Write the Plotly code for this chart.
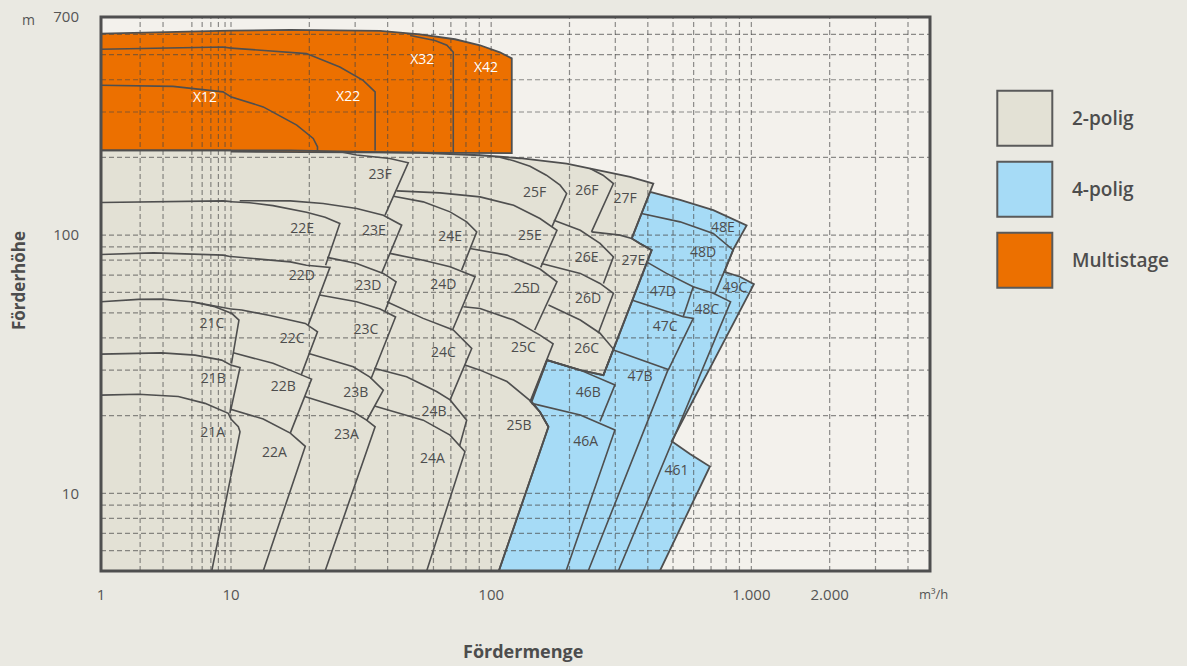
import math
import plotly.graph_objects as go

# ------------------------------------------------------------------
# Data
# Q = Fördermenge [m³/h], H = Förderhöhe [m]
# ------------------------------------------------------------------

# --- Multistage (orange) envelope and internal curves
MS_OUTLINE_Q = [1, 5.77, 16.9, 37.4, 53.3, 72.6, 90.6, 108, 120, 120, 69.5, 28.7, 16.9, 1]
MS_OUTLINE_H = [603, 616, 624, 619, 600, 574, 544, 511, 484, 208, 209, 211, 213, 213]
X32_Q = [48.8, 60.8, 67.6, 71.5, 71.5]
X32_H = [594, 568, 544, 511, 210]
X22_Q = [1, 8.68, 19.5, 26.2, 32.2, 35.8, 35.8]
X22_H = [525, 536, 505, 448, 398, 359, 213]
X12_Q = [1, 3.58, 8.68, 13.3, 17.9, 20.7, 21.5, 21.5]
X12_H = [381, 377, 359, 314, 267, 237, 220, 213]

# --- 2-polig (beige) envelope
P2_OUTLINE_Q = [1, 16.9, 28.7, 53.3, 90.6, 129, 195, 240, 342, 420, 347, 373, 414,
                295, 270, 220, 164, 142, 154, 166, 107, 1]
P2_OUTLINE_H = [213, 213, 210.5, 208.6, 204, 198.6, 189.4, 181.2, 168.1, 158.5, 97.1, 92.9, 87.5,
                36, 28.7, 30.0, 32.8, 22.6, 20.65, 18.1, 5, 5]

# --- 2-polig curves (top curve + right limit of each size)
C21C_Q = [1, 1.94, 2.93, 4.99, 7.53, 10.06, 10.73, 10.04]
C21C_H = [55.2, 56.4, 56.5, 55.2, 52.8, 49.8, 46.9, 31.8]
C21B_Q = [1, 2.93, 5.29, 8.48, 10.83, 10, 9.82]
C21B_H = [34.6, 35.0, 34.3, 32.8, 30.7, 21.2, 20.4]
C21A_Q = [1, 1.94, 3.93, 6.31, 9.53, 10.67, 10.83, 10, 7.11]
C21A_H = [24.0, 24.2, 23.7, 22.3, 20.4, 18.1, 17.3, 11.7, 5]
C22E_Q = [1, 2.68, 8.72, 11.8, 14.5, 19.5, 23.0, 26.2, 23.1]
C22E_H = [133.8, 134.6, 135.8, 133.6, 130.1, 122.7, 117.4, 111.0, 76.5]
C22D_Q = [1, 2.53, 8.72, 16.9, 19.5, 24.0, 19.8]
C22D_H = [84.2, 85.4, 83.7, 78.8, 76.5, 75.0, 44.8]
C22C_Q = [5.01, 11.0, 14.1, 19.3, 21.5, 18.6]
C22C_H = [55.2, 51.3, 48.8, 45.5, 42.2, 28.7]
C22B_Q = [10.2, 14.5, 17.4, 20.4, 16.9]
C22B_H = [35.0, 31.9, 29.6, 27.7, 17.1]
C22A_Q = [9.91, 13.3, 16.9, 19.3, 13.3]
C22A_H = [21.2, 19.4, 17.1, 15.2, 5]
C23F_Q = [26.9, 30.4, 40.8, 48.0, 39.1]
C23F_H = [209.6, 204.4, 198.1, 190.8, 119.5]
C23E_Q = [10.8, 16.9, 22.6, 30.4, 38.5, 45.3, 37.9]
C23E_H = [136.0, 135.8, 132.7, 126.8, 119.5, 109.3, 71.1]
C23D_Q = [23.4, 30.4, 38.5, 43.1, 39.1]
C23D_H = [82.0, 77.7, 71.1, 66.0, 50.8]
C23C_Q = [21.9, 30.4, 37.4, 42.9, 34.5]
C23C_H = [58.6, 55.2, 51.7, 48.2, 27.7]
C23B_Q = [19.9, 29.5, 34.2, 38.5, 33.2]
C23B_H = [34.8, 30.9, 28.2, 25.1, 19.1]
C23A_Q = [19.2, 29.5, 33.2, 35.8, 23.0]
C23A_H = [23.7, 20.7, 19.2, 18.1, 5]
C24E_Q = [42.1, 54.8, 69.5, 80.5, 88.0, 77.0]
C24E_H = [141.5, 134.6, 123.1, 112.6, 103.0, 73.2]
C24D_Q = [40.8, 54.8, 69.5, 86.7, 71.3]
C24D_H = [85.0, 80.0, 75.4, 69.0, 43.3]
C24C_Q = [39.7, 54.8, 71.5, 84.2, 69.5]
C24C_H = [55.2, 47.6, 42.9, 36.4, 23.0]
C24B_Q = [35.5, 47.3, 61.7, 69.5, 80.5, 75.6]
C24B_H = [30.5, 28.3, 24.8, 23.0, 19.2, 15.25]
C24A_Q = [35.6, 54.8, 69.5, 79.3, 56.5]
C24A_H = [21.8, 19.2, 16.8, 14.5, 5]
C25F_Q = [108, 122, 141, 163, 184, 195, 171]
C25F_H = [200.4, 194.2, 184.9, 170.7, 156.2, 145.0, 107.4]
C25E_Q = [43.3, 63.6, 90.6, 122, 154, 179, 155]
C25E_H = [148.4, 145.8, 140.7, 130.6, 116.0, 104.5, 75.0]
C25D_Q = [82.9, 115, 154, 179, 147]
C25D_H = [88.8, 83.7, 73.9, 66.0, 42.9]
C25C_Q = [78.2, 90.6, 122, 154, 173, 141]
C25C_H = [52.8, 52.0, 46.9, 41.0, 37.9, 22.6]
C25B_Q = [79.3, 90.6, 115, 143, 154, 166]
C25B_H = [31.4, 30.0, 27.1, 22.6, 20.65, 18.1]
C26F_Q = [240, 269, 295, 243]
C26F_H = [181.2, 170.7, 158.5, 103.0]
C26E_Q = [174, 220, 262, 295, 270]
C26E_H = [114.3, 104.5, 92.9, 82.4, 65.0]
C26D_Q = [156, 220, 262, 295, 258]
C26D_H = [77.6, 71.1, 65.0, 59.5, 41.7]
C26C_Q = [166, 220, 262, 295, 270]
C26C_H = [53.6, 46.9, 41.7, 36.2, 28.7]
C27E_Q = [243, 313, 347]
C27E_H = [103.0, 100, 97.1]

# --- 4-polig (blue) envelope and curves
P4_OUTLINE_Q = [408, 532, 714, 959, 852, 788, 904, 1023, 494, 581, 693, 445, 107, 166, 154, 143,
                164, 220, 270, 295, 349, 397, 414, 373, 347, 378]
P4_OUTLINE_H = [147, 137, 125, 109, 88, 72, 69, 64.6, 15.9, 14.2, 12.7, 5, 5, 18.1, 20.65, 22.6,
                32.8, 30.0, 28.7, 36, 56, 78.6, 87.5, 92.9, 97.1, 121]
C48D_Q = [378, 532, 714, 852, 725]
C48D_H = [121.3, 112.6, 101.5, 87.5, 59.5]
C47D48C_Q = [397, 472, 598, 714, 832, 308]
C47D48C_H = [78.6, 71.1, 63.1, 59.5, 55.2, 5]
C47D_EDGE_Q = [598, 547]
C47D_EDGE_H = [63.1, 48.3]
C47C_Q = [349, 458, 547, 598, 479]
C47C_H = [56.0, 51.3, 48.3, 47.6, 30.0]
C47B_Q = [295, 384, 479, 236]
C47B_H = [35.9, 32.8, 30.2, 5]
C46B_Q = [164, 220, 299, 262]
C46B_H = [32.8, 30.0, 26.3, 19.0]
C46A_Q = [143, 220, 299, 194]
C46A_H = [22.3, 20.1, 17.6, 5]

# --- Labels
P2_LABELS = ["22E", "23F", "23E", "24E", "25F", "25E", "26F", "26E", "27F", "27E",
             "22D", "23D", "24D", "25D", "26D", "22C", "23C", "24C", "25C", "26C",
             "22B", "23B", "24B", "25B", "22A", "23A", "24A"]
P2_LABEL_Q = [18.75, 37.4, 35.4, 69.5, 147, 141, 233, 233, 327, 352,
              18.7, 33.7, 65.5, 137, 236, 17.2, 33.0, 65.5, 133, 233,
              15.9, 30.2, 60.3, 128, 14.7, 27.8, 59.4]
P2_LABEL_H = [105, 170.7, 103, 98, 145, 99.1, 147, 81.3, 137.5, 79.3,
              69, 63.1, 64, 61.7, 56.4, 39.6, 42.6, 34.8, 36.5, 36.1,
              25.7, 24.4, 20.6, 18.2, 14.3, 16.7, 13.5]
P2_LEFT_LABELS = ["21C", "21B", "21A"]
P2_LEFT_LABEL_Q = [7.14, 7.31, 7.23]
P2_LEFT_LABEL_H = [45.0, 27.5, 17.0]
P4_LABELS = ["48E", "48D", "49C", "47D", "48C", "47C", "47B", "46B", "46A", "461"]
P4_LABEL_Q = [778, 652, 865, 457, 675, 466, 373, 236, 231, 516]
P4_LABEL_H = [106.4, 85.2, 62.4, 59.9, 51.0, 43.9, 28.1, 24.4, 15.7, 12.1]
MS_LABELS = ["X22", "X32", "X42"]
MS_LABEL_Q = [28.2, 54.3, 95.5]
MS_LABEL_H = [342, 476, 443]
MS_LEFT_LABELS = ["X12"]
MS_LEFT_LABEL_Q = [6.31]
MS_LEFT_LABEL_H = [339]

# --- Axis ticks / grid values
X_TICKS_LEFT = [1]
X_TICKTEXT_LEFT = ["1"]
X_TICKS_RIGHT = [10, 100, 1000, 2000]
X_TICKTEXT_RIGHT = ["10", "100", "1.000", "2.000"]
Y_TICKS = [10, 100, 700]
Y_TICKTEXT = ["10", "100", "700"]
GRID_Q_LEFT = [2, 3, 5, 6, 7, 8, 9, 10]
GRID_Q_RIGHT = [10, 20, 30, 40, 50, 60, 70, 80, 90, 100, 200, 300, 400, 500, 600, 700, 800, 900,
                1000, 2000, 3000, 4000]
GRID_H = [6, 7, 8, 9, 10, 20, 30, 40, 50, 60, 70, 80, 90, 100, 200, 300, 400, 500, 600]
Q_MIN, Q_SPLIT, Q_MAX = 1, 10, 4860
H_MIN, H_MAX = 5, 700

LEGEND_NAMES = ["2-polig", "4-polig", "Multistage"]

# ------------------------------------------------------------------
# Styling
# ------------------------------------------------------------------
PAPER_BG = "#EAE9E2"
PLOT_BG = "#F3F1EC"
BEIGE = "#E3E1D5"
BLUE = "#A6DBF6"
ORANGE = "#EC7000"
EDGE = "#4F4F4F"
TEXT = "#4D4D4D"
FONT = "Open Sans"

# the chart uses a compressed first decade: two log axes side by side sharing y
AXES = [("x", "y"), ("x2", "y")]

fig = go.Figure()


def add_fill(q, h, color):
    for xa, ya in AXES:
        fig.add_trace(go.Scatter(x=q, y=h, xaxis=xa, yaxis=ya, mode="lines", fill="toself",
                                 fillcolor=color, line=dict(width=0), hoverinfo="skip",
                                 showlegend=False))


def add_line(q, h, width=1.6, closed=False):
    if closed:
        q = list(q) + [q[0]]
        h = list(h) + [h[0]]
    for xa, ya in AXES:
        fig.add_trace(go.Scatter(x=q, y=h, xaxis=xa, yaxis=ya, mode="lines",
                                 line=dict(color=EDGE, width=width), hoverinfo="skip",
                                 showlegend=False))


def add_text(q, h, labels, color, xa):
    fig.add_trace(go.Scatter(x=q, y=h, xaxis=xa, yaxis="y", mode="text", text=labels,
                             textposition="middle center",
                             textfont=dict(family=FONT, size=14, color=color),
                             hoverinfo="skip", showlegend=False))


# fills
add_fill(P2_OUTLINE_Q, P2_OUTLINE_H, BEIGE)
add_fill(P4_OUTLINE_Q, P4_OUTLINE_H, BLUE)
add_fill(MS_OUTLINE_Q, MS_OUTLINE_H, ORANGE)

# dashed grid above the fills
GRID_STYLE = dict(color="rgba(70,70,70,0.6)", width=1.2, dash="5px,3px")
for xa, qs in (("x", GRID_Q_LEFT), ("x2", GRID_Q_RIGHT)):
    gx, gy = [], []
    for v in qs:
        gx += [v, v, None]
        gy += [H_MIN, H_MAX, None]
    fig.add_trace(go.Scatter(x=gx, y=gy, xaxis=xa, yaxis="y", mode="lines", line=GRID_STYLE,
                             hoverinfo="skip", showlegend=False))
for xa, (qa, qb) in (("x", (Q_MIN, Q_SPLIT)), ("x2", (Q_SPLIT, Q_MAX))):
    gx, gy = [], []
    for v in GRID_H:
        gx += [qa, qb, None]
        gy += [v, v, None]
    fig.add_trace(go.Scatter(x=gx, y=gy, xaxis=xa, yaxis="y", mode="lines", line=GRID_STYLE,
                             hoverinfo="skip", showlegend=False))

# outlines
add_line(P2_OUTLINE_Q, P2_OUTLINE_H, 1.8, closed=True)
add_line(P4_OUTLINE_Q, P4_OUTLINE_H, 1.8, closed=True)
add_line(MS_OUTLINE_Q, MS_OUTLINE_H, 1.8, closed=True)

P2_CURVES = [(C21C_Q, C21C_H), (C21B_Q, C21B_H), (C21A_Q, C21A_H),
             (C22E_Q, C22E_H), (C22D_Q, C22D_H), (C22C_Q, C22C_H), (C22B_Q, C22B_H), (C22A_Q, C22A_H),
             (C23F_Q, C23F_H), (C23E_Q, C23E_H), (C23D_Q, C23D_H), (C23C_Q, C23C_H), (C23B_Q, C23B_H),
             (C23A_Q, C23A_H), (C24E_Q, C24E_H), (C24D_Q, C24D_H), (C24C_Q, C24C_H), (C24B_Q, C24B_H),
             (C24A_Q, C24A_H), (C25F_Q, C25F_H), (C25E_Q, C25E_H), (C25D_Q, C25D_H), (C25C_Q, C25C_H),
             (C25B_Q, C25B_H), (C26F_Q, C26F_H), (C26E_Q, C26E_H), (C26D_Q, C26D_H), (C26C_Q, C26C_H),
             (C27E_Q, C27E_H)]
P4_CURVES = [(C48D_Q, C48D_H), (C47D48C_Q, C47D48C_H), (C47D_EDGE_Q, C47D_EDGE_H),
             (C47C_Q, C47C_H), (C47B_Q, C47B_H), (C46B_Q, C46B_H), (C46A_Q, C46A_H)]
MS_CURVES = [(X32_Q, X32_H), (X22_Q, X22_H), (X12_Q, X12_H)]
for q, h in P2_CURVES + P4_CURVES + MS_CURVES:
    add_line(q, h, 1.6)

# labels
add_text(P2_LABEL_Q, P2_LABEL_H, P2_LABELS, TEXT, "x2")
add_text(P2_LEFT_LABEL_Q, P2_LEFT_LABEL_H, P2_LEFT_LABELS, TEXT, "x")
add_text(P4_LABEL_Q, P4_LABEL_H, P4_LABELS, TEXT, "x2")
add_text(MS_LABEL_Q, MS_LABEL_H, MS_LABELS, "white", "x2")
add_text(MS_LEFT_LABEL_Q, MS_LEFT_LABEL_H, MS_LEFT_LABELS, "white", "x")

# ------------------------------------------------------------------
# Layout
# ------------------------------------------------------------------
PLOT_W = 1187 - 101 - 257
PLOT_H = 666 - 17 - 95
split = 130 / PLOT_W
tick_common = dict(type="log", showgrid=False, zeroline=False, showline=False, ticks="outside",
                   ticklen=10, tickcolor="rgba(0,0,0,0)", automargin=False,
                   tickfont=dict(family=FONT, size=15, color="#555555"))

fig.update_layout(
    width=1187, height=666,
    margin=dict(l=101, r=257, t=17, b=95, autoexpand=False),
    paper_bgcolor=PAPER_BG, plot_bgcolor=PLOT_BG,
    showlegend=False,
    font=dict(family=FONT, color=TEXT),
    xaxis=dict(domain=[0, split], range=[math.log10(Q_MIN), math.log10(Q_SPLIT)], anchor="y",
               tickvals=X_TICKS_LEFT, ticktext=X_TICKTEXT_LEFT, **tick_common),
    xaxis2=dict(domain=[split, 1], range=[math.log10(Q_SPLIT), math.log10(Q_MAX)], anchor="y",
                tickvals=X_TICKS_RIGHT, ticktext=X_TICKTEXT_RIGHT, **tick_common),
    yaxis=dict(type="log", range=[math.log10(H_MIN), math.log10(H_MAX)], anchor="x",
               showgrid=False, zeroline=False, showline=False, automargin=False,
               tickvals=Y_TICKS, ticktext=Y_TICKTEXT, ticks="outside", ticklen=18,
               tickcolor="rgba(0,0,0,0)", tickfont=dict(family=FONT, size=15, color="#555555")),
)

# plot frame
fig.add_shape(type="rect", xref="paper", yref="paper", x0=0, x1=1, y0=0, y1=1,
              line=dict(color=EDGE, width=3), layer="above")

# legend boxes
LEG_COLORS = [BEIGE, BLUE, ORANGE]


def px_to_paper(px, py):
    return (px - 101) / PLOT_W, (571 - py) / PLOT_H


for i, (name, col) in enumerate(zip(LEGEND_NAMES, LEG_COLORS)):
    top = 90.7 + i * 71
    x0, y1 = px_to_paper(997.3, top)
    x1, y0 = px_to_paper(1052.3, top + 55)
    fig.add_shape(type="rect", xref="paper", yref="paper", x0=x0, x1=x1, y0=y0, y1=y1,
                  fillcolor=col, line=dict(color="#5A5A5A", width=2))
    lx, ly = px_to_paper(1070, top + 27.5)
    fig.add_annotation(x=lx, y=ly, xref="paper", yref="paper", text=name, showarrow=False,
                       xanchor="left", yanchor="middle",
                       font=dict(family=FONT, size=19, color=TEXT, weight=600))

# units and titles
ax, ay = px_to_paper(28, 19)
fig.add_annotation(x=ax, y=ay, xref="paper", yref="paper", text="m", showarrow=False,
                   xanchor="center", yanchor="middle",
                   font=dict(family=FONT, size=14, color="#555555"))
ax, ay = px_to_paper(933, 594)
fig.add_annotation(x=ax, y=ay, xref="paper", yref="paper", text="m³/h", showarrow=False,
                   xanchor="center", yanchor="middle",
                   font=dict(family=FONT, size=13, color="#555555"))
ax, ay = px_to_paper(18, 281)
fig.add_annotation(x=ax, y=ay, xref="paper", yref="paper", text="<b>Förderhöhe</b>",
                   showarrow=False, textangle=-90, xanchor="center", yanchor="middle",
                   font=dict(family=FONT, size=17, color=TEXT))
ax, ay = px_to_paper(523, 651)
fig.add_annotation(x=ax, y=ay, xref="paper", yref="paper", text="<b>Fördermenge</b>",
                   showarrow=False, xanchor="center", yanchor="middle",
                   font=dict(family=FONT, size=18, color=TEXT))

fig.write_html("out.html")
